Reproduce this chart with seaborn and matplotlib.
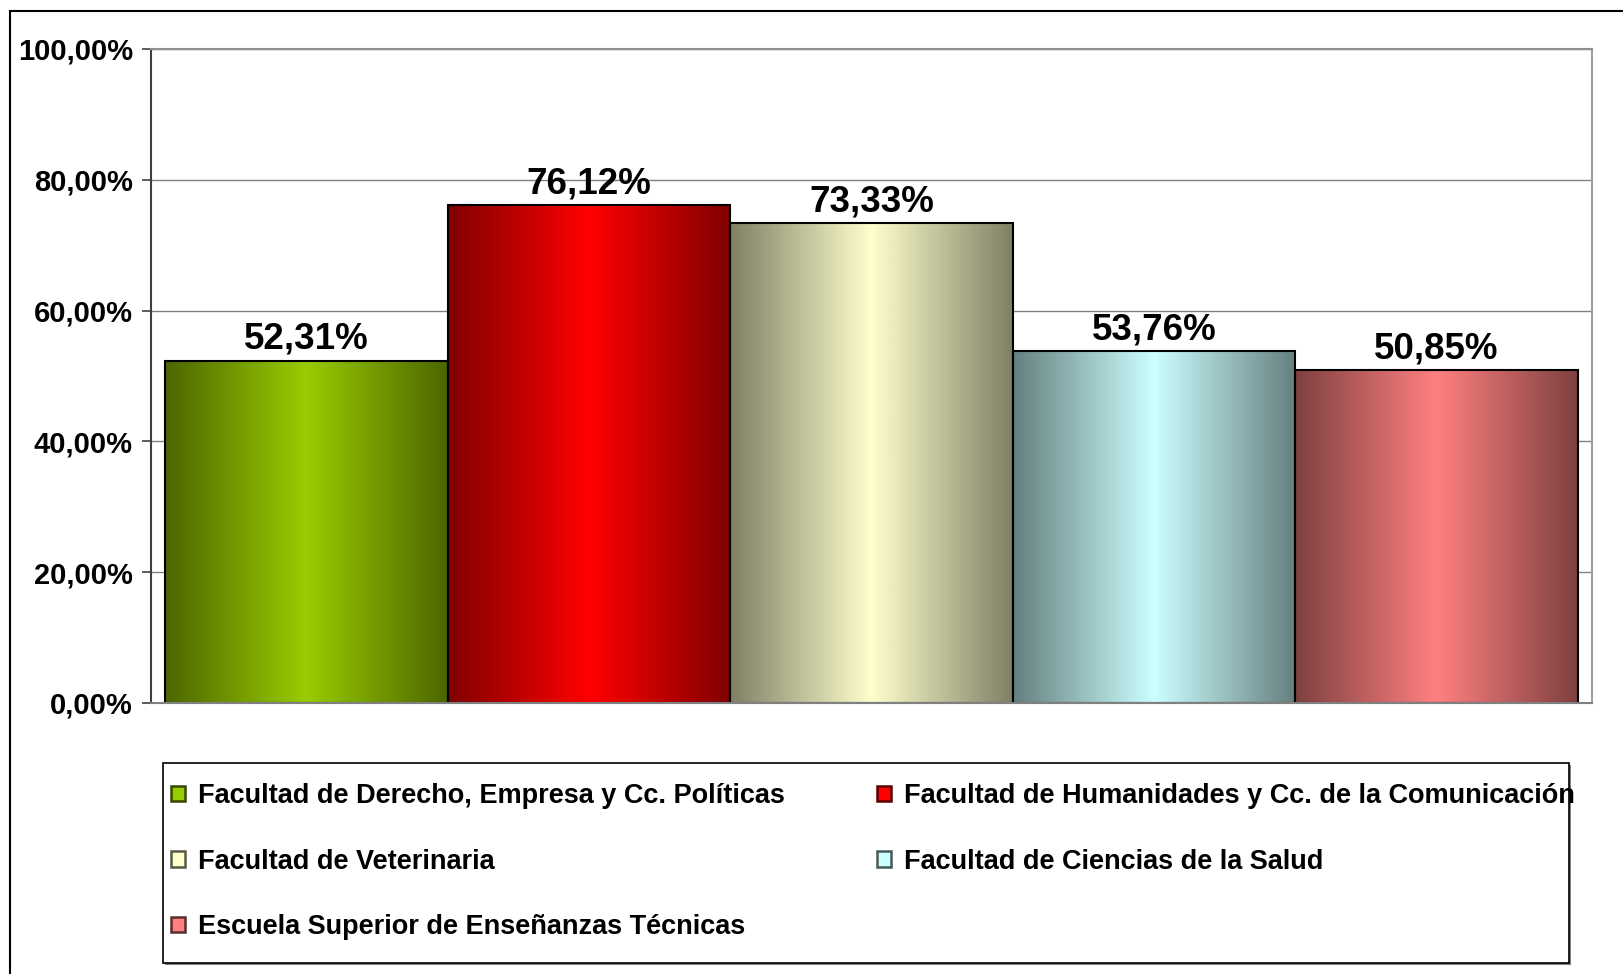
import numpy as np
import pandas as pd
import seaborn as sns
import matplotlib.pyplot as plt
from matplotlib.patches import Patch, Rectangle
from matplotlib.colors import to_rgb
from matplotlib.ticker import FuncFormatter, MultipleLocator

centros = [
    'Facultad de Derecho, Empresa y Cc. Políticas',
    'Facultad de Humanidades y Cc. de la Comunicación',
    'Facultad de Veterinaria',
    'Facultad de Ciencias de la Salud',
    'Escuela Superior de Enseñanzas Técnicas',
]
porcentajes = [52.31, 76.12, 73.33, 53.76, 50.85]
colores = ['#99CC00', '#FF0000', '#FFFFCC', '#CCFFFF', '#FF8080']

W, H = 1624, 974


def fmt_pct(v):
    return f'{v:.2f}'.replace('.', ',') + '%'


def degradado(color, n=256):
    """Horizontal gradient: dark at both edges, light in the middle"""
    c = np.array(to_rgb(color))
    oscuro = c * 0.5
    t = np.abs(np.linspace(-1, 1, n))[:, None]
    return (c[None, :] * (1 - t) + oscuro[None, :] * t)[None, :, :]


df = pd.DataFrame({'centro': centros, 'pct': porcentajes})

sns.set_theme(style='white')
plt.rcParams['font.family'] = ['Liberation Sans', 'DejaVu Sans']
plt.rcParams['font.weight'] = 'bold'
plt.rcParams['text.color'] = 'black'

fig = plt.figure(figsize=(W / 100, H / 100), dpi=100)
ax = fig.add_axes([151 / W, 1 - 703 / H, (1592 - 151) / W, (703 - 49) / H])

sns.barplot(data=df, x='centro', y='pct', hue='centro', palette=colores,
            saturation=1, width=1.0, legend=False, ax=ax,
            edgecolor='black', linewidth=1.5)

# gradient fill clipped to each bar
for patch in list(ax.patches):
    color = patch.get_facecolor()[:3]
    x0, y0 = patch.get_x(), patch.get_y()
    w, h = patch.get_width(), patch.get_height()
    im = ax.imshow(degradado(color), extent=[x0, x0 + w, y0, y0 + h],
                   aspect='auto', origin='lower', zorder=0.9,
                   interpolation='bilinear')
    im.set_clip_path(patch)
    patch.set_facecolor('none')
    patch.set_zorder(1)

for cont in ax.containers:
    ax.bar_label(cont, labels=[fmt_pct(v) for v in cont.datavalues],
                 fontsize=26.5, fontweight='bold', padding=3, color='black')

ax.set_xlim(-0.55, len(centros) - 0.45)
ax.set_ylim(0, 100)
ax.yaxis.set_major_locator(MultipleLocator(20))
ax.yaxis.set_major_formatter(FuncFormatter(lambda v, p: fmt_pct(v)))
ax.set_xticks([])
ax.set_xlabel('')
ax.set_ylabel('')
ax.tick_params(axis='y', left=True, length=6.5, width=1.2, color='#404040',
               pad=6.5, labelsize=21, labelcolor='black')
for lbl in ax.get_yticklabels():
    lbl.set_fontweight('bold')

ax.set_axisbelow(True)
ax.yaxis.grid(True, color='#808080', lw=1)
ax.xaxis.grid(False)
ax.spines['left'].set_color('#404040')
ax.spines['bottom'].set_color('#808080')
ax.spines['top'].set_color('#909090')
ax.spines['right'].set_color('#a0a0a0')
for s in ax.spines.values():
    s.set_linewidth(1.5)

# chart area border
fig.patches.append(Rectangle((10 / W, -0.05), 1.2, 1 - 11 / H + 0.05,
                             transform=fig.transFigure, fill=False,
                             edgecolor='black', lw=1.5))

# legend box
fig.patches.append(Rectangle((165 / W, 1 - 965 / H), (1571 - 165) / W, 200 / H,
                             transform=fig.transFigure, fill=True,
                             facecolor='#808080', edgecolor='none', zorder=2))
fig.patches.append(Rectangle((163 / W, 1 - 963 / H), (1569 - 163) / W, 200 / H,
                             transform=fig.transFigure, fill=True,
                             facecolor='white', edgecolor='black', lw=1.2,
                             zorder=2.1))

handles = [Patch(facecolor=c, edgecolor=tuple(np.array(to_rgb(c)) * 0.35), lw=1.8)
           for c in colores]
orden = [0, 2, 4, 1, 3]
leg = fig.legend([handles[i] for i in orden], [centros[i] for i in orden],
                 ncol=2, loc='upper left',
                 bbox_to_anchor=(171 / W, 1 - 783 / H),
                 bbox_transform=fig.transFigure, frameon=False,
                 borderpad=0, borderaxespad=0, fontsize=19.5,
                 handlelength=0.5, handleheight=0.5, handletextpad=0.5,
                 labelspacing=1.46, columnspacing=3.4)
leg.set_zorder(3)
for t in leg.get_texts():
    t.set_fontweight('bold')
    t.set_color('black')

fig.savefig('out.png', dpi=100)
